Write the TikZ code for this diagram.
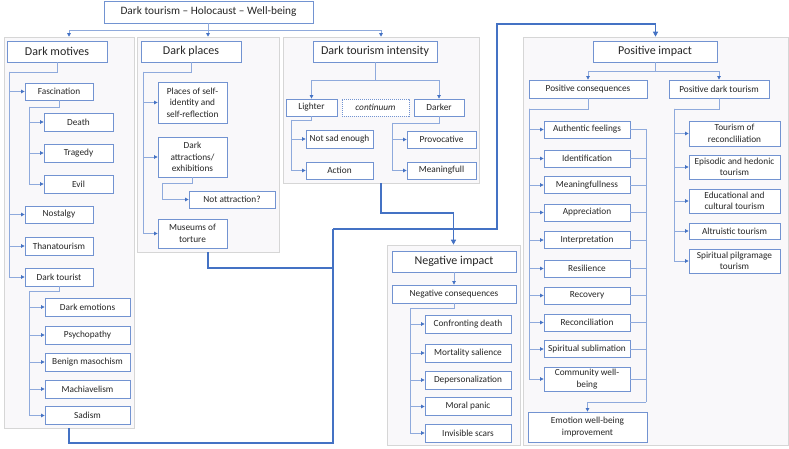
\documentclass[tikz,border=0pt]{standalone}
\usepackage{fontspec}
\setmainfont{Carlito}
\usetikzlibrary{arrows.meta,positioning}
\definecolor{boxblue}{RGB}{114,147,209}
\definecolor{linkblue}{RGB}{143,170,220}
\definecolor{flowblue}{RGB}{68,114,196}
\definecolor{panelfill}{RGB}{249,248,250}
\definecolor{panelline}{RGB}{214,214,214}
\tikzset{
  every node/.append style={font=\fontsize{9.3}{11.5}\selectfont, text=black!85},
}

\begin{document}
\begin{tikzpicture}[x=1pt, y=-1pt,
  panel/.style={rectangle, draw=panelline, fill=panelfill, line width=0.6pt, inner sep=0pt},
  head/.style={rectangle, draw=boxblue, fill=white, line width=0.8pt, inner sep=0pt,
               minimum height=21, font=\fontsize{12}{14}\selectfont},
  item/.style={rectangle, draw=boxblue, fill=white, line width=0.8pt, inner sep=0pt,
               align=center, minimum height=17},
  hint/.style={item, dash pattern=on 1.2pt off 0.8pt, font=\fontsize{9.3}{11.5}\selectfont\itshape},
  link/.style={draw=linkblue, line width=0.7pt},
  arrow/.style={link, -{Triangle[length=3.5pt,width=3.5pt,color=flowblue]}},
  flow/.style={draw=flowblue, line width=1.8pt},
  flowarrow/.style={flow, -{Triangle[length=5pt,width=5pt]}}
]
\useasboundingbox (0,0) rectangle (789,449);

% Panels behind the groups
\node[panel, minimum width=130, minimum height=391] (pmot) at (69,232.5) {};
\node[panel, minimum width=142, minimum height=215] (pplc) at (208,144.5) {};
\node[panel, minimum width=196, minimum height=146] (pint) at (381,110) {};
\node[panel, minimum width=133, minimum height=200] (pneg) at (453.5,345) {};
\node[panel, minimum width=265, minimum height=408] (ppos) at (655.5,241) {};

% Title and group heads
\node[item, minimum width=209, minimum height=22, font=\fontsize{11.3}{13}\selectfont] (title) at (208.5,12) {Dark tourism – Holocaust – Well-being};
\node[head, minimum width=100] (motives) at (57,51.5) {Dark motives};
\node[head, minimum width=100] (places) at (191,51.5) {Dark places};
\node[head, minimum width=124] (intensity) at (375,51.5) {Dark tourism intensity};
\node[head, minimum width=124] (negative) at (454,261.5) {Negative impact};
\node[head, minimum width=124] (positive) at (655,51.5) {Positive impact};

% Dark motives
\node[item, minimum width=68] (fascination) at (59,91.5) {Fascination};
\node[item, minimum width=69, minimum height=18] (death) at (78.5,122) {Death};
\node[item, minimum width=69, minimum height=18] (tragedy) at (78.5,153) {Tragedy};
\node[item, minimum width=69, minimum height=18] (evil) at (78.5,184) {Evil};
\node[item, minimum width=68] (nostalgy) at (59,214.5) {Nostalgy};
\node[item, minimum width=68, minimum height=18] (thanatourism) at (59,246) {Thanatourism};
\node[item, minimum width=68, minimum height=18] (darktourist) at (59,277) {Dark tourist};
\node[item, minimum width=85, minimum height=18] (emotions) at (87.5,307) {Dark emotions};
\node[item, minimum width=85, minimum height=18] (psychopathy) at (87.5,335) {Psychopathy};
\node[item, minimum width=85, minimum height=18] (masochism) at (87.5,362) {Benign masochism};
\node[item, minimum width=85, minimum height=18] (machiavelism) at (87.5,389) {Machiavelism};
\node[item, minimum width=85, minimum height=18] (sadism) at (87.5,415.5) {Sadism};

% Dark places
\node[item, minimum width=69, minimum height=41] (selfid) at (192.5,102.5) {Places of self-\\identity and\\self-reflection};
\node[item, minimum width=69, minimum height=40] (attractions) at (192.5,157) {Dark\\attractions/\\exhibitions};
\node[item, minimum width=86] (notattr) at (232,199.5) {Not attraction?};
\node[item, minimum width=69, minimum height=29] (museums) at (192.5,233.5) {Museums of\\torture};

% Dark tourism intensity
\node[item, minimum width=51] (lighter) at (311.5,107.5) {Lighter};
\node[hint, minimum width=67] (continuum) at (375.5,107.5) {continuum};
\node[item, minimum width=50] (darker) at (439,107.5) {Darker};
\node[item, minimum width=67, minimum height=18] (notsad) at (339.5,139) {Not sad enough};
\node[item, minimum width=67] (action) at (339.5,170.5) {Action};
\node[item, minimum width=69] (provocative) at (441.5,139.5) {Provocative};
\node[item, minimum width=69] (meaningfull) at (441.5,170.5) {Meaningfull};

% Negative impact
\node[item, minimum width=124, minimum height=18] (negcons) at (454,294) {Negative consequences};
\node[item, minimum width=86, minimum height=18] (confronting) at (468,324) {Confronting death};
\node[item, minimum width=86, minimum height=18] (mortality) at (468,353) {Mortality salience};
\node[item, minimum width=86, minimum height=18] (depersonal) at (468,380) {Depersonalization};
\node[item, minimum width=86, minimum height=18] (moralpanic) at (468,406.5) {Moral panic};
\node[item, minimum width=86, minimum height=18] (scars) at (468,433) {Invisible scars};

% Positive impact
\node[item, minimum width=118, minimum height=18] (poscons) at (588,89) {Positive consequences};
\node[item, minimum width=100, minimum height=18] (posdark) at (719,89) {Positive dark tourism};
\node[item, minimum width=86] (authentic) at (587,129.5) {Authentic feelings};
\node[item, minimum width=86] (identification) at (587,158.5) {Identification};
\node[item, minimum width=86] (meaningfullness) at (587,185) {Meaningfullness};
\node[item, minimum width=86] (appreciation) at (587,212.5) {Appreciation};
\node[item, minimum width=86] (interpretation) at (587,240) {Interpretation};
\node[item, minimum width=86] (resilience) at (587,268.5) {Resilience};
\node[item, minimum width=86] (recovery) at (587,295.5) {Recovery};
\node[item, minimum width=86] (reconciliation) at (587,322.5) {Reconciliation};
\node[item, minimum width=86] (sublimation) at (587,349) {Spiritual sublimation};
\node[item, minimum width=86, minimum height=24] (community) at (587,379) {Community well-\\being};
\node[item, minimum width=119, minimum height=30] (emotion) at (587.5,427) {Emotion well-being\\improvement};
\node[item, minimum width=91, minimum height=25] (reconcil) at (734.5,133.5) {Tourism of\\reconcliliation};
\node[item, minimum width=91, minimum height=24] (episodic) at (734.5,167) {Episodic and hedonic\\tourism};
\node[item, minimum width=91, minimum height=24] (educational) at (734.5,201) {Educational and\\cultural tourism};
\node[item, minimum width=91, minimum height=16] (altruistic) at (734.5,231) {Altruistic tourism};
\node[item, minimum width=91, minimum height=24] (pilgrimage) at (734.5,261) {Spiritual pilgramage\\tourism};

% Trunk points
\coordinate (tsplit) at (208.5,30);
\coordinate (mtrunk) at (9,72);
\coordinate (ftrunk) at (29,107);
\coordinate (dtrunk) at (29,291);
\coordinate (ptrunk) at (143,72);
\coordinate (atrunk) at (162,183);
\coordinate (isplit) at (375,80);
\coordinate (ltrunk) at (291,120);
\coordinate (dktrunk) at (392,123);
\coordinate (ntrunk) at (410,308);
\coordinate (psplit) at (655,71);
\coordinate (pctrunk) at (529,109);
\coordinate (pcjoin) at (646,402);
\coordinate (pdtrunk) at (674,109);
\coordinate (bus) at (333,229);
\coordinate (riser) at (497,24);

% Title to groups
\draw[link] (title.south) -- (tsplit);
\foreach \g in {pmot,pplc,pint} \draw[arrow] (tsplit) -| (\g.north);

% Dark motives tree
\draw[link] (motives.south) |- (mtrunk);
\foreach \i in {fascination,nostalgy,thanatourism,darktourist} \draw[arrow] (mtrunk) |- (\i.west);
\draw[link] (fascination.south) |- (ftrunk);
\foreach \i in {death,tragedy,evil} \draw[arrow] (ftrunk) |- (\i.west);
\draw[link] (darktourist.south) |- (dtrunk);
\foreach \i in {emotions,psychopathy,masochism,machiavelism,sadism} \draw[arrow] (dtrunk) |- (\i.west);

% Dark places tree
\draw[link] (places.south) |- (ptrunk);
\foreach \i in {selfid,attractions,museums} \draw[arrow] (ptrunk) |- (\i.west);
\draw[link] (attractions.south) |- (atrunk);
\draw[arrow] (atrunk) |- (notattr.west);

% Intensity tree
\draw[link] (intensity.south) -- (isplit);
\draw[arrow] (isplit) -| (lighter.north);
\draw[arrow] (isplit) -| (darker.north);
\draw[link] (lighter.south) |- (ltrunk);
\foreach \i in {notsad,action} \draw[arrow] (ltrunk) |- (\i.west);
\draw[link] (darker.south) |- (dktrunk);
\foreach \i in {provocative,meaningfull} \draw[arrow] (dktrunk) |- (\i.west);

% Negative tree
\draw[arrow] (negative.south) -- (negcons.north);
\draw[link] (negcons.south) |- (ntrunk);
\foreach \i in {confronting,mortality,depersonal,moralpanic,scars} \draw[arrow] (ntrunk) |- (\i.west);

% Positive tree
\draw[link] (positive.south) -- (psplit);
\draw[arrow] (psplit) -| (poscons.north);
\draw[arrow] (psplit) -| (posdark.north);
\draw[link] (poscons.south) |- (pctrunk);
\foreach \i in {authentic,identification,meaningfullness,appreciation,interpretation,resilience,recovery,reconciliation,sublimation,community}
  \draw[arrow] (pctrunk) |- (\i.west);
\foreach \i in {authentic,identification,meaningfullness,appreciation,interpretation,resilience,recovery,reconciliation,sublimation,community}
  \draw[link] (\i.east) -| (pcjoin);
\draw[arrow] (pcjoin) -| (emotion.north);
\draw[link] (posdark.south) |- (pdtrunk);
\foreach \i in {reconcil,episodic,educational,altruistic,pilgrimage} \draw[arrow] (pdtrunk) |- (\i.west);

% Impact flows
\draw[flow] (pmot.south) -- ++(0,15) -| (bus);
\draw[flow] (pplc.south) -- ++(0,16) -| (bus);
\draw[flowarrow] (bus) -| (riser) -| (ppos.north);
\draw[flowarrow] (pint.south) -- ++(0,30) -| (pneg.north);

\end{tikzpicture}
\end{document}
